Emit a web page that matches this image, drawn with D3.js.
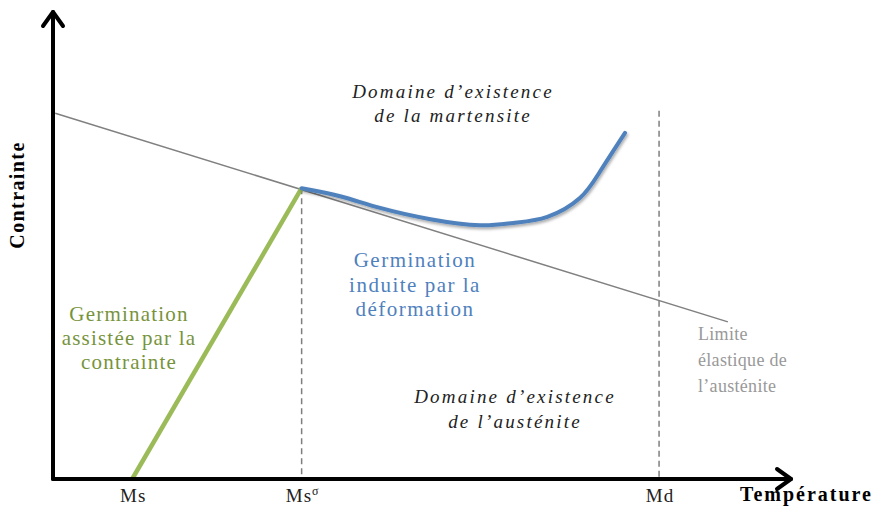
<!DOCTYPE html>
<meta charset="utf-8">
<head>
<script src="https://d3js.org/d3.v7.min.js"></script>
<style>
  body { margin: 0; background: #fff; }
</style>
</head>
<body>
<div id="my_dataviz"></div>
<script>
var SERIF = "'Liberation Serif', 'DejaVu Serif', serif";

// temperature / stress in arbitrary units (0-100)
var tempTicks = ["Ms", "Ms\u03c3", "Md"];
var tempValues = [10.7, 33.6, 81.9];

// elastic limit of austenite (straight line)
var limitT = [0.3, 91.2];
var limitS = [78.0, 33.5];

// stress-assisted nucleation (green)
var assistT = [10.7, 33.6];
var assistS = [0, 62.0];

// strain-induced nucleation (blue curve)
var inducedT = [33.6, 38.8, 44.2, 51.0, 57.7, 62.2, 66.8, 71.2, 73.9, 77.3];
var inducedS = [62.0, 60.3, 57.8, 55.4, 54.1, 54.6, 55.9, 59.9, 65.5, 73.8];

var W = 875, H = 510;
var svg = d3.select("#my_dataviz").append("svg")
  .attr("width", W).attr("height", H);

var x = d3.scaleLinear().domain([0, 100]).range([53, 793]);
var y = d3.scaleLinear().domain([0, 100]).range([479, 10]);

var defs = svg.append("defs");
var f = defs.append("filter").attr("id", "shadow")
  .attr("x", "-10%").attr("y", "-10%").attr("width", "120%").attr("height", "130%");
f.append("feDropShadow").attr("dx", 1).attr("dy", 2).attr("stdDeviation", 1.5)
  .attr("flood-color", "#000").attr("flood-opacity", 0.35);

// dashed verticals at Ms-sigma and Md
svg.append("line")
  .attr("x1", x(tempValues[1])).attr("x2", x(tempValues[1]))
  .attr("y1", y(assistS[1])).attr("y2", y(0))
  .attr("stroke", "#7f7f7f").attr("stroke-width", 1.5).attr("stroke-dasharray", "6,4");
svg.append("line")
  .attr("x1", x(tempValues[2])).attr("x2", x(tempValues[2]))
  .attr("y1", y(78.5)).attr("y2", y(0))
  .attr("stroke", "#7f7f7f").attr("stroke-width", 1.5).attr("stroke-dasharray", "6,4");

// elastic limit
svg.append("line")
  .attr("x1", x(limitT[0])).attr("y1", y(limitS[0]))
  .attr("x2", x(limitT[1])).attr("y2", y(limitS[1]))
  .attr("stroke", "#808080").attr("stroke-width", 1.5);

// green line
svg.append("line")
  .attr("x1", x(assistT[0])).attr("y1", y(assistS[0]))
  .attr("x2", x(assistT[1])).attr("y2", y(assistS[1]))
  .attr("stroke", "#9bbb59").attr("stroke-width", 4.5);

// blue curve
var pts = inducedT.map(function (t, i) { return [t, inducedS[i]]; });
var line = d3.line()
  .x(function (d) { return x(d[0]); })
  .y(function (d) { return y(d[1]); })
  .curve(d3.curveNatural);
svg.append("path")
  .datum(pts)
  .attr("d", line)
  .attr("fill", "none")
  .attr("stroke", "#4f81bd").attr("stroke-width", 4)
  .attr("stroke-linecap", "round")
  .attr("filter", "url(#shadow)");

// axes with arrows
var ax = svg.append("g").attr("stroke", "#000").attr("fill", "none")
  .attr("stroke-width", 4).attr("stroke-linecap", "round").attr("stroke-linejoin", "round");
ax.append("path").attr("d", "M" + x(0) + "," + y(0) + "H" + (x(100) - 2));
ax.append("path").attr("d", "M" + x(0) + "," + y(0) + "V" + (y(100) + 2));
// arrowheads
ax.append("path").attr("d",
  "M" + (x(0) - 10) + "," + (y(100) + 16) + "L" + x(0) + "," + (y(100) + 2) + "L" + (x(0) + 10) + "," + (y(100) + 16));
ax.append("path").attr("d",
  "M" + (x(100) - 16) + "," + (y(0) - 10) + "L" + (x(100) - 2) + "," + y(0) + "L" + (x(100) - 16) + "," + (y(0) + 10));

// tick labels
svg.selectAll(".tick-lab").data(tempValues).enter().append("text")
  .attr("class", "tick-lab")
  .attr("x", function (d) { return x(d) + 1; })
  .attr("y", y(0) + 23)
  .attr("text-anchor", "middle")
  .style("font-family", SERIF)
  .style("letter-spacing", "1px")
  .attr("font-size", 19).attr("fill", "#222")
  .each(function (d, i) {
    var s = d3.select(this);
    if (i === 1) {
      s.append("tspan").text("Ms");
      s.append("tspan").attr("dy", -7).attr("font-size", 12).text("\u03c3");
    } else {
      s.text(tempTicks[i]);
    }
  });

// axis titles
svg.append("text")
  .attr("x", 873).attr("y", 501).attr("text-anchor", "end")
  .style("font-family", SERIF).style("letter-spacing", "2px")
  .attr("font-weight", "bold").attr("font-size", 20).text("Température");
svg.append("text")
  .attr("transform", "translate(24,195) rotate(-90)")
  .attr("text-anchor", "middle")
  .style("font-family", SERIF).style("letter-spacing", "1.4px")
  .attr("font-weight", "bold").attr("font-size", 20).text("Contrainte");

// annotations, one text element per line
function block(lines, cx, y0, dy, anchor, italic, color, size, ls) {
  lines.forEach(function (l, i) {
    svg.append("text")
      .attr("x", cx).attr("y", y0 + i * dy)
      .attr("text-anchor", anchor)
      .style("font-family", SERIF)
      .style("font-style", italic ? "italic" : "normal")
      .style("font-size", size + "px")
      .style("letter-spacing", ls + "px")
      .attr("fill", color)
      .text(l);
  });
}
block(["Domaine d\u2019existence", "de la martensite"], 453, 98, 24, "middle", true, "#222", 19, 2.2);
block(["Domaine d\u2019existence", "de l\u2019austénite"], 515, 403, 25, "middle", true, "#222", 19, 2.2);
block(["Germination", "induite par la", "déformation"], 415, 267, 24.5, "middle", false, "#4f81bd", 21, 1.5);
block(["Germination", "assistée par la", "contrainte"], 129, 321, 24, "middle", false, "#77933c", 21, 1.2);
block(["Limite", "élastique de", "l\u2019austénite"], 698, 340, 26, "start", false, "#999999", 18, 0.3);
</script>
</body>
